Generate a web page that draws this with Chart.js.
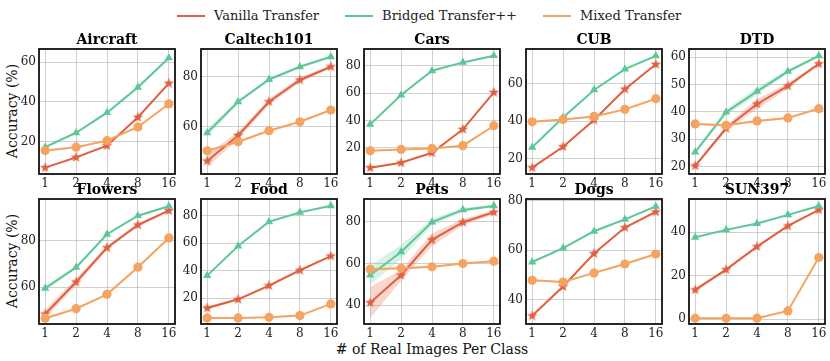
<!DOCTYPE html>
<html>
<head>
<meta charset="utf-8">
<script src="https://cdn.jsdelivr.net/npm/chart.js@4.4.1/dist/chart.umd.min.js"></script>
<style>
  body { margin: 0; background: #fff; width: 830px; height: 361px; position: relative; overflow: hidden; font-family: 'DejaVu Serif', serif; color: #111; }
  canvas { position: absolute; }
  #legend { position: absolute; left: 177px; top: 7px; display: flex; gap: 26px; font-size: 13px; line-height: 18px; color: #222; }
  .item { display: flex; align-items: center; white-space: nowrap; }
  .swatch { width: 28px; height: 2px; margin-right: 9px; }
  .ylab { position: absolute; width: 120px; left: -48px; font-size: 14px; line-height: 16px; text-align: center; transform: rotate(-90deg); white-space: nowrap; }
  #xlab { position: absolute; left: 232px; width: 400px; top: 341px; font-size: 14px; line-height: 16px; text-align: center; }
</style>
</head>
<body>
<div id="legend">
  <div class="item"><span class="swatch" style="background:#e0603f"></span>Vanilla Transfer</div>
  <div class="item"><span class="swatch" style="background:#5ec797"></span>Bridged Transfer++</div>
  <div class="item"><span class="swatch" style="background:#f4a460"></span>Mixed Transfer</div>
</div>
<div class="ylab" style="top:103px">Accuracy (%)</div>
<div class="ylab" style="top:253px">Accuracy (%)</div>
<div id="xlab"># of Real Images Per Class</div>

<script>
// x axis: images per class (evenly spaced, log2)
const shots = ['1', '2', '4', '8', '16'];

// Aircraft
const aircraftVanilla = [6.9, 12.1, 18.0, 32.3, 49.4];
const aircraftBridged = [17.2, 24.5, 34.6, 47.4, 62.2];
const aircraftMixed = [15.5, 17.2, 20.5, 27.4, 39.0];
const aircraftTicks = [20, 40, 60];

// Caltech101
const caltechVanilla = [46.3, 56.5, 70.0, 78.7, 84.0];
const caltechBridged = [57.6, 70.0, 78.9, 84.0, 88.0];
const caltechMixed = [50.4, 54.0, 58.4, 62.0, 66.7];
const caltechTicks = [60, 80];

// Cars
const carsVanilla = [5.4, 9.0, 16.3, 33.5, 60.5];
const carsBridged = [37.1, 58.5, 76.3, 82.4, 87.3];
const carsMixed = [17.8, 18.8, 19.5, 21.5, 36.1];
const carsTicks = [20, 40, 60, 80];

// CUB
const cubVanilla = [15.2, 26.4, 40.7, 57.2, 70.5];
const cubBridged = [26.1, 42.0, 56.8, 67.9, 75.0];
const cubMixed = [39.7, 41.0, 42.6, 46.4, 52.1];
const cubTicks = [20, 40, 60];

// DTD
const dtdVanilla = [20.3, 34.0, 42.9, 49.5, 57.6];
const dtdBridged = [25.3, 39.9, 47.5, 54.8, 60.5];
const dtdMixed = [35.6, 35.1, 36.7, 37.8, 41.2];
const dtdTicks = [20, 30, 40, 50, 60];

// Flowers
const flowersVanilla = [48.5, 62.3, 77.1, 86.9, 93.1];
const flowersBridged = [59.6, 68.6, 82.9, 90.9, 95.0];
const flowersMixed = [46.7, 50.8, 57.0, 68.7, 81.3];
const flowersTicks = [60, 80];

// Food
const foodVanilla = [13.0, 19.3, 29.2, 40.4, 50.7];
const foodBridged = [36.5, 58.0, 75.6, 82.4, 87.2];
const foodMixed = [5.8, 5.8, 6.3, 7.5, 16.0];
const foodTicks = [20, 40, 60, 80];

// Pets
const petsVanilla = [41.3, 54.4, 71.3, 79.7, 84.5];
const petsBridged = [54.4, 65.5, 79.8, 85.6, 87.5];
const petsMixed = [57.3, 57.7, 58.4, 60.0, 61.1];
const petsTicks = [40, 60, 80];

// Dogs
const dogsVanilla = [33.6, 45.4, 58.7, 69.2, 75.5];
const dogsBridged = [55.3, 60.9, 67.7, 72.5, 77.7];
const dogsMixed = [47.9, 47.2, 50.9, 54.5, 58.5];
const dogsTicks = [40, 60, 80];

// SUN397
const sunVanilla = [13.5, 22.8, 33.4, 42.9, 50.3];
const sunBridged = [37.7, 41.1, 44.0, 48.0, 52.1];
const sunMixed = [0.45, 0.45, 0.5, 3.8, 28.4];
const sunTicks = [0, 20, 40];

// shaded spread (half width) around each line
const smallBand = [0.4, 0.4, 0.4, 0.4, 0.4];
const aircraftBridgedBand = [0.8, 0.6, 0.6, 0.8, 0.6];
const caltechVanillaBand = [2.5, 1.5, 1.2, 1.0, 0.5];
const caltechBridgedBand = [1.5, 0.8, 0.5, 0.5, 0.4];
const dtdVanillaBand = [0.6, 1.0, 1.8, 1.0, 0.5];
const dtdBridgedBand = [0.6, 1.2, 1.2, 0.8, 0.5];
const flowersVanillaBand = [2.0, 1.5, 1.0, 0.6, 0.5];
const flowersBridgedBand = [1.2, 0.6, 0.5, 0.4, 0.3];
const foodVanillaBand = [1.2, 0.8, 1.0, 0.6, 0.4];
const petsVanillaBand = [7.5, 2.5, 3.0, 1.5, 1.0];
const petsBridgedBand = [4.5, 3.5, 1.5, 1.0, 0.6];
const sunVanillaBand = [1.0, 0.6, 0.5, 0.5, 0.4];

const RED = '#e0603f', GREEN = '#5ec797', ORANGE = '#f4a460';
const FONT = 'DejaVu Serif';

function starImage(color, r) {
    const c = document.createElement('canvas');
    const s = Math.ceil(r * 2 + 2);
    c.width = c.height = s;
    const g = c.getContext('2d');
    g.fillStyle = color;
    g.beginPath();
    for (let i = 0; i < 10; i++) {
        const rad = i % 2 ? r * 0.42 : r;
        const a = -Math.PI / 2 + i * Math.PI / 5;
        g.lineTo(s / 2 + rad * Math.cos(a), s / 2 + rad * Math.sin(a));
    }
    g.closePath();
    g.fill();
    return c;
}
const star = starImage(RED, 5.5);

// black frame around the plot area
const frame = {
    id: 'frame',
    afterDatasetsDraw(chart) {
        const a = chart.chartArea, c = chart.ctx;
        c.save();
        c.strokeStyle = '#111';
        c.lineWidth = 1.8;
        c.strokeRect(a.left, a.top, a.right - a.left, a.bottom - a.top);
        c.restore();
    }
};

function pts(vals) {
    return vals.map((v, i) => ({ x: i, y: v }));
}

function bandSets(vals, band, color) {
    return [
        { data: pts(vals.map((v, i) => v + band[i])), pointRadius: 0, borderWidth: 0, fill: false, order: 10 },
        { data: pts(vals.map((v, i) => v - band[i])), pointRadius: 0, borderWidth: 0, fill: '-1', backgroundColor: color, order: 10 }
    ];
}

const plotLefts = [39, 201, 364, 526, 689];
const plotTops = [49, 199];
const plotW = 136, plotH = 125;

function makeChart(col, row, name, vanilla, bridged, mixed, ticks, yMin, yMax, vBand, bBand) {
    const canvas = document.createElement('canvas');
    canvas.width = 30 + plotW + 8;
    canvas.height = 18 + plotH + 18;
    canvas.style.left = (plotLefts[col] - 30) + 'px';
    canvas.style.top = (plotTops[row] - 18) + 'px';
    document.body.appendChild(canvas);

    const datasets = [
        ...bandSets(vanilla, vBand || smallBand, 'rgba(224,96,63,0.25)'),
        ...bandSets(bridged, bBand || smallBand, 'rgba(94,199,151,0.25)'),
        ...bandSets(mixed, smallBand, 'rgba(244,164,96,0.25)'),
        { data: pts(vanilla), borderColor: RED, backgroundColor: RED, pointStyle: star, order: 3 },
        { data: pts(bridged), borderColor: GREEN, backgroundColor: GREEN, pointStyle: 'triangle', pointRadius: 4.8, order: 2 },
        { data: pts(mixed), borderColor: ORANGE, backgroundColor: ORANGE, pointStyle: 'circle', pointRadius: 4.6, order: 1 }
    ];

    const chart = new Chart(canvas, {
        type: 'line',
        data: { datasets: datasets },
        options: {
            responsive: false,
            animation: false,
            layout: { padding: { left: 0, right: 8, top: 0, bottom: 0 } },
            elements: {
                line: { borderWidth: 2, tension: 0 },
                point: { borderWidth: 0 }
            },
            plugins: {
                legend: { display: false },
                tooltip: { enabled: false },
                title: {
                    display: true,
                    fullSize: false,
                    text: name,
                    color: '#000',
                    font: { family: FONT, size: 14, weight: 'bold', lineHeight: 1 },
                    padding: { top: 2, bottom: 2 }
                }
            },
            scales: {
                x: {
                    type: 'linear',
                    min: -0.2,
                    max: 4.2,
                    afterBuildTicks: s => { s.ticks = shots.map((_, i) => ({ value: i })); },
                    afterFit: s => { s.height = 18; },
                    ticks: { callback: v => shots[v], font: { family: FONT, size: 12 }, color: '#222', padding: 3, maxRotation: 0 },
                    grid: { color: 'rgba(176,176,176,0.6)', lineWidth: 1, drawTicks: false },
                    border: { display: false }
                },
                y: {
                    min: yMin,
                    max: yMax,
                    afterBuildTicks: s => { s.ticks = ticks.map(v => ({ value: v })); },
                    afterFit: s => { s.width = 30; },
                    ticks: { font: { family: FONT, size: 12 }, color: '#222', padding: 3 },
                    grid: { color: 'rgba(176,176,176,0.6)', lineWidth: 1, drawTicks: false },
                    border: { display: false }
                }
            }
        },
        plugins: [frame]
    });

    // line the plot box up with the reference positions
    const a = chart.chartArea;
    canvas.style.left = (plotLefts[col] - a.left) + 'px';
    canvas.style.top = (plotTops[row] - a.top) + 'px';
    return chart;
}

makeChart(0, 0, 'Aircraft', aircraftVanilla, aircraftBridged, aircraftMixed, aircraftTicks, 3.7, 66.7, null, aircraftBridgedBand);
makeChart(1, 0, 'Caltech101', caltechVanilla, caltechBridged, caltechMixed, caltechTicks, 41.1, 91.1, caltechVanillaBand, caltechBridgedBand);
makeChart(2, 0, 'Cars', carsVanilla, carsBridged, carsMixed, carsTicks, 0.8, 92.2);
makeChart(3, 0, 'CUB', cubVanilla, cubBridged, cubMixed, cubTicks, 11.8, 78.7);
makeChart(4, 0, 'DTD', dtdVanilla, dtdBridged, dtdMixed, dtdTicks, 17.3, 63, dtdVanillaBand, dtdBridgedBand);
makeChart(0, 1, 'Flowers', flowersVanilla, flowersBridged, flowersMixed, flowersTicks, 44.2, 98.1, flowersVanillaBand, flowersBridgedBand);
makeChart(1, 1, 'Food', foodVanilla, foodBridged, foodMixed, foodTicks, 1.4, 92.1, foodVanillaBand);
makeChart(2, 1, 'Pets', petsVanilla, petsBridged, petsMixed, petsTicks, 31.1, 90.8, petsVanillaBand, petsBridgedBand);
makeChart(3, 1, 'Dogs', dogsVanilla, dogsBridged, dogsMixed, dogsTicks, 30.3, 80.7);
makeChart(4, 1, 'SUN397', sunVanilla, sunBridged, sunMixed, sunTicks, -2.2, 55.3, sunVanillaBand);
</script>
</body>
</html>
